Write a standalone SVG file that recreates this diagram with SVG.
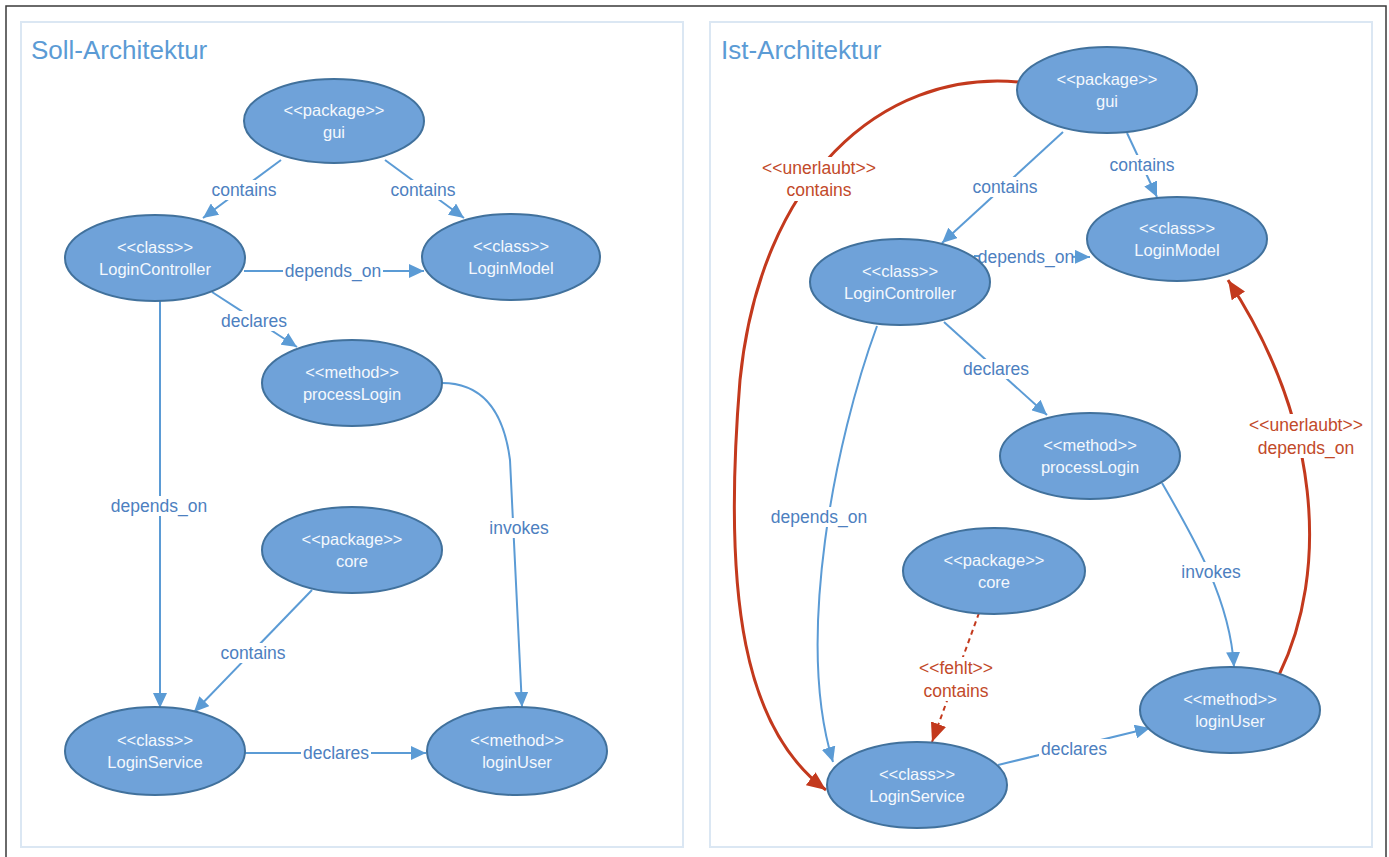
<svg xmlns="http://www.w3.org/2000/svg" width="1389" height="857" viewBox="0 0 1389 857">
  <style>
    .frame { fill: none; stroke: #3a3a3a; stroke-width: 1.5; }
    .panel { fill: #ffffff; stroke: #dbe7f3; stroke-width: 2; }
    .title { font-family: "Liberation Sans", Arial, sans-serif; font-size: 26px; fill: #5b9bd5; }
    .node ellipse { fill: #6fa2d9; stroke: #41719c; stroke-width: 2; }
    .node text { font-family: "Liberation Sans", Arial, sans-serif; font-size: 16.5px; fill: #f4f8fd; text-anchor: middle; }
    .edge { fill: none; stroke: #5b9bd5; stroke-width: 2; marker-end: url(#arrow); }
    .bad { fill: none; stroke: #c3391d; stroke-width: 3; marker-end: url(#arrowRed); }
    .missing { fill: none; stroke: #c3391d; stroke-width: 2; stroke-dasharray: 5 4; marker-end: url(#arrowRed); }
    .bg { fill: #ffffff; }
    .lbl { font-family: "Liberation Sans", Arial, sans-serif; font-size: 17.5px; fill: #4d80c0; text-anchor: middle; }
    .lbl.red { fill: #c24a2a; }
  </style>
  <defs>
    <marker id="arrow" markerUnits="userSpaceOnUse" markerWidth="16" markerHeight="14" refX="15" refY="7" orient="auto">
      <path d="M0,0 L15,7 L0,14 z" fill="#5b9bd5"/>
    </marker>
    <marker id="arrowRed" markerUnits="userSpaceOnUse" markerWidth="20" markerHeight="16" refX="19" refY="8" orient="auto">
      <path d="M0,0 L19,8 L0,16 z" fill="#c3391d"/>
    </marker>
  </defs>

  <rect width="1389" height="857" fill="#ffffff"/>
  <rect class="frame" x="6" y="6" width="1380" height="880"/>

  <!-- panels -->
  <rect class="panel" x="21" y="22" width="662" height="825"/>
  <rect class="panel" x="710" y="22" width="662" height="825"/>
  <text class="title" x="31" y="59">Soll-Architektur</text>
  <text class="title" x="721" y="59">Ist-Architektur</text>

  <!-- connectors -->
  <g id="connectors">
    <!-- Soll -->
    <line class="edge" x1="281" y1="160" x2="203" y2="218"/>
    <line class="edge" x1="385" y1="160" x2="464" y2="218"/>
    <line class="edge" x1="244" y1="271" x2="424" y2="271"/>
    <line class="edge" x1="212" y1="292" x2="297" y2="347"/>
    <line class="edge" x1="160" y1="300" x2="160" y2="708"/>
    <path class="edge" d="M442,383 Q500,383 510,460 L522,707"/>
    <line class="edge" x1="312" y1="590" x2="194" y2="712"/>
    <line class="edge" x1="245" y1="753" x2="426" y2="753"/>

    <!-- Ist -->
    <line class="edge" x1="1063" y1="132" x2="942" y2="243"/>
    <line class="edge" x1="1127" y1="133" x2="1157" y2="197"/>
    <line class="edge" x1="974" y1="256" x2="1090" y2="257"/>
    <line class="edge" x1="944" y1="322" x2="1047" y2="415"/>
    <path class="edge" d="M877,326 C835,440 795,640 833,762"/>
    <path class="edge" d="M1162,483 C1195,540 1230,600 1234,667"/>
    <line class="edge" x1="998" y1="765" x2="1150" y2="728"/>
    <line class="missing" x1="979" y1="613" x2="932" y2="742"/>
    <path class="bad" d="M1018,82 C880,70 760,180 740,380 C722,600 745,730 826,790"/>
    <path class="bad" d="M1279,675 C1330,570 1320,420 1228,280"/>

    <!-- label backgrounds -->
    <rect class="bg" x="210" y="180" width="68" height="20"/>
    <rect class="bg" x="389" y="180" width="68" height="20"/>
    <rect class="bg" x="283" y="261" width="100" height="20"/>
    <rect class="bg" x="219" y="311" width="70" height="20"/>
    <rect class="bg" x="109" y="496" width="100" height="20"/>
    <rect class="bg" x="488" y="518" width="62" height="20"/>
    <rect class="bg" x="219" y="643" width="68" height="20"/>
    <rect class="bg" x="301" y="743" width="70" height="20"/>

    <rect class="bg" x="971" y="177" width="68" height="20"/>
    <rect class="bg" x="1108" y="155" width="68" height="20"/>
    <rect class="bg" x="980" y="247" width="92" height="20"/>
    <rect class="bg" x="961" y="359" width="70" height="20"/>
    <rect class="bg" x="769" y="507" width="100" height="20"/>
    <rect class="bg" x="1180" y="562" width="62" height="20"/>
    <rect class="bg" x="1039" y="739" width="70" height="20"/>
    <rect class="bg" x="916" y="657" width="80" height="44"/>
    <rect class="bg" x="760" y="157" width="118" height="44"/>
    <rect class="bg" x="1247" y="414" width="118" height="44"/>

    <!-- labels -->
    <text class="lbl" x="244" y="196">contains</text>
    <text class="lbl" x="423" y="196">contains</text>
    <text class="lbl" x="333" y="277">depends_on</text>
    <text class="lbl" x="254" y="327">declares</text>
    <text class="lbl" x="159" y="512">depends_on</text>
    <text class="lbl" x="519" y="534">invokes</text>
    <text class="lbl" x="253" y="659">contains</text>
    <text class="lbl" x="336" y="759">declares</text>

    <text class="lbl" x="1005" y="193">contains</text>
    <text class="lbl" x="1142" y="171">contains</text>
    <text class="lbl" x="1026" y="263">depends_on</text>
    <text class="lbl" x="996" y="375">declares</text>
    <text class="lbl" x="819" y="523">depends_on</text>
    <text class="lbl" x="1211" y="578">invokes</text>
    <text class="lbl" x="1074" y="755">declares</text>
    <text class="lbl red" x="956" y="674">&lt;&lt;fehlt&gt;&gt;</text>
    <text class="lbl red" x="956" y="697">contains</text>
    <text class="lbl red" x="819" y="174">&lt;&lt;unerlaubt&gt;&gt;</text>
    <text class="lbl red" x="819" y="196">contains</text>
    <text class="lbl red" x="1306" y="431">&lt;&lt;unerlaubt&gt;&gt;</text>
    <text class="lbl red" x="1306" y="454">depends_on</text>
  </g>

  <!-- Soll nodes -->
  <g id="soll-gui" class="node"><ellipse cx="334" cy="121" rx="90" ry="42"/><text x="334" y="116">&lt;&lt;package&gt;&gt;</text><text x="334" y="138">gui</text></g>
  <g id="soll-logincontroller" class="node"><ellipse cx="155" cy="258" rx="90" ry="43"/><text x="155" y="253">&lt;&lt;class&gt;&gt;</text><text x="155" y="275">LoginController</text></g>
  <g id="soll-loginmodel" class="node"><ellipse cx="511" cy="257" rx="89" ry="43"/><text x="511" y="252">&lt;&lt;class&gt;&gt;</text><text x="511" y="274">LoginModel</text></g>
  <g id="soll-processlogin" class="node"><ellipse cx="352" cy="383" rx="90" ry="43"/><text x="352" y="378">&lt;&lt;method&gt;&gt;</text><text x="352" y="400">processLogin</text></g>
  <g id="soll-core" class="node"><ellipse cx="352" cy="550" rx="90" ry="43"/><text x="352" y="545">&lt;&lt;package&gt;&gt;</text><text x="352" y="567">core</text></g>
  <g id="soll-loginservice" class="node"><ellipse cx="155" cy="751" rx="90" ry="44"/><text x="155" y="746">&lt;&lt;class&gt;&gt;</text><text x="155" y="768">LoginService</text></g>
  <g id="soll-loginuser" class="node"><ellipse cx="517" cy="751" rx="90" ry="44"/><text x="517" y="746">&lt;&lt;method&gt;&gt;</text><text x="517" y="768">loginUser</text></g>

  <!-- Ist nodes -->
  <g id="ist-gui" class="node"><ellipse cx="1107" cy="90" rx="90" ry="43"/><text x="1107" y="85">&lt;&lt;package&gt;&gt;</text><text x="1107" y="107">gui</text></g>
  <g id="ist-loginmodel" class="node"><ellipse cx="1177" cy="239" rx="90" ry="42"/><text x="1177" y="234">&lt;&lt;class&gt;&gt;</text><text x="1177" y="256">LoginModel</text></g>
  <g id="ist-logincontroller" class="node"><ellipse cx="900" cy="282" rx="90" ry="43"/><text x="900" y="277">&lt;&lt;class&gt;&gt;</text><text x="900" y="299">LoginController</text></g>
  <g id="ist-processlogin" class="node"><ellipse cx="1090" cy="456" rx="90" ry="43"/><text x="1090" y="451">&lt;&lt;method&gt;&gt;</text><text x="1090" y="473">processLogin</text></g>
  <g id="ist-core" class="node"><ellipse cx="994" cy="571" rx="91" ry="43"/><text x="994" y="566">&lt;&lt;package&gt;&gt;</text><text x="994" y="588">core</text></g>
  <g id="ist-loginuser" class="node"><ellipse cx="1230" cy="710" rx="90" ry="43"/><text x="1230" y="705">&lt;&lt;method&gt;&gt;</text><text x="1230" y="727">loginUser</text></g>
  <g id="ist-loginservice" class="node"><ellipse cx="917" cy="785" rx="90" ry="43"/><text x="917" y="780">&lt;&lt;class&gt;&gt;</text><text x="917" y="802">LoginService</text></g>
</svg>
